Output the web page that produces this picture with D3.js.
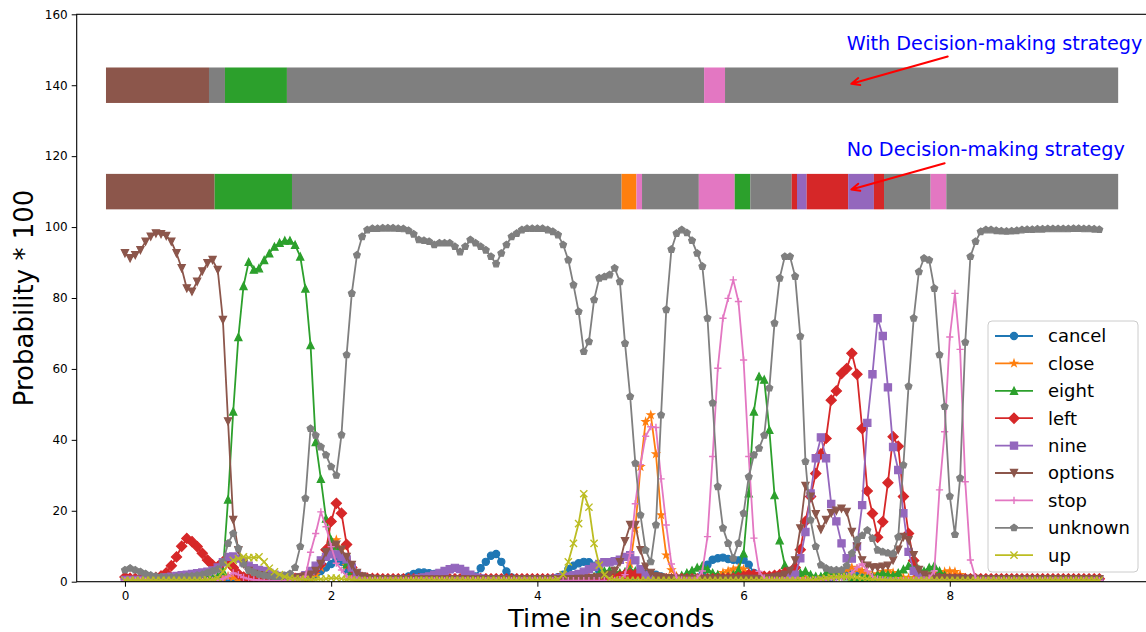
<!DOCTYPE html>
<html>
<head>
<meta charset="utf-8">
<script src="https://cdn.jsdelivr.net/npm/d3@7"></script>
<style>
  body { margin: 0; background: #fff; }
  svg { display: block; }
  text { font-family: "DejaVu Sans", sans-serif; }
</style>
</head>
<body>
<svg id="chart" width="1146" height="632"></svg>
<script>
// sample spacing of the probability frames (seconds)
const frameStep = 0.05;

const labels = ["cancel", "close", "eight", "left", "nine", "options", "stop", "unknown", "up"];
const xTicks = [0, 2, 4, 6, 8];
const yTicks = [0, 20, 40, 60, 80, 100, 120, 140, 160];

const cancel = [
  0.5,0.4,0.4,0.4,0.4,0.4,0.4,0.4,0.4,0.4,
  0.4,0.4,0.4,0.4,0.4,0.5,0.5,0.6,0.7,0.9,
  1.0,1.0,0.9,0.8,0.7,0.6,0.6,0.5,0.5,0.5,
  0.5,0.5,0.5,0.6,0.7,0.9,1.2,2.0,3.0,4.0,
  5.0,6.2,5.6,3.0,1.5,0.9,0.7,0.6,0.6,0.6,
  0.6,0.6,0.7,0.8,1.0,1.5,2.2,2.6,2.6,2.4,
  2.2,1.5,1.0,0.8,0.8,0.8,0.9,1.0,1.5,3.8,
  5.6,7.3,7.8,5.6,2.9,1.2,0.8,0.6,0.6,0.6,
  0.6,0.6,0.7,0.9,1.3,2.0,3.5,4.5,5.2,5.6,
  5.5,4.5,3.0,2.0,1.5,1.2,1.0,1.0,1.2,1.5,
  2.0,2.2,2.2,2.0,1.5,1.0,0.8,0.7,0.7,0.7,
  0.8,1.0,2.0,4.8,6.2,6.6,6.8,6.4,6.2,6.0,
  6.2,4.8,2.5,1.2,0.8,0.7,0.6,0.6,0.6,0.6,
  0.6,0.6,0.6,0.6,0.7,0.8,1.0,1.2,1.5,1.8,
  2.2,2.8,3.0,2.5,1.5,1.0,0.8,0.7,0.6,0.6,
  0.5,0.5,0.5,0.5,0.5,0.5,0.5,0.5,0.5,0.5,
  0.5,0.5,0.5,0.5,0.5,0.5,0.5,0.5,0.5,0.5,
  0.5,0.5,0.5,0.5,0.5,0.5,0.5,0.5,0.5,0.5,
  0.5,0.5,0.5,0.5,0.5,0.5,0.5,0.5,0.5,0.5
];

const close = [
  0.3,0.3,0.3,0.3,0.3,0.3,0.3,0.3,0.3,0.3,
  0.3,0.3,0.3,0.3,0.3,0.3,0.4,0.5,0.7,1.0,
  1.5,1.2,0.8,0.5,0.4,0.3,0.3,0.3,0.3,0.3,
  0.3,0.3,0.3,0.3,0.4,0.5,1.0,2.0,4.0,7.0,
  10.0,11.8,9.0,4.5,1.8,0.8,0.5,0.4,0.3,0.3,
  0.3,0.3,0.3,0.3,0.3,0.3,0.3,0.3,0.3,0.3,
  0.3,0.3,0.3,0.3,0.3,0.3,0.3,0.3,0.3,0.3,
  0.3,0.3,0.3,0.3,0.3,0.3,0.3,0.3,0.3,0.3,
  0.3,0.3,0.3,0.3,0.3,0.3,0.3,0.3,0.3,0.3,
  0.3,0.3,0.4,0.5,0.6,0.8,1.0,1.5,5.0,15.0,
  32.4,45.1,47.0,36.0,18.8,7.5,3.3,1.5,0.8,0.5,
  0.4,0.4,0.5,0.8,1.2,1.8,2.5,3.0,3.5,3.8,
  3.5,2.5,1.5,1.0,0.8,0.6,0.5,0.5,0.6,0.8,
  1.0,1.2,1.0,0.8,0.8,1.0,1.5,2.0,2.5,3.0,
  3.5,4.0,3.5,3.0,2.5,2.0,2.2,2.8,3.0,2.5,
  1.8,1.2,1.0,1.0,1.2,1.5,1.8,2.2,2.5,2.8,
  3.0,2.8,2.0,1.0,0.6,0.4,0.3,0.3,0.3,0.3,
  0.3,0.3,0.3,0.3,0.3,0.3,0.3,0.3,0.3,0.3,
  0.3,0.3,0.3,0.3,0.3,0.3,0.3,0.3,0.3,0.3
];

const eight = [
  0.6,0.5,0.5,0.5,0.4,0.4,0.4,0.4,0.4,0.5,
  0.5,0.5,0.5,0.6,0.6,0.7,0.8,1.0,1.5,3.0,
  23.2,48.0,69.0,83.4,90.2,88.0,88.4,90.7,92.6,94.5,
  95.6,96.2,96.2,95.0,91.7,82.7,66.7,39.4,29.0,17.8,
  11.8,10.0,7.0,5.0,3.0,1.5,1.0,0.8,0.7,0.6,
  0.6,0.5,0.5,0.5,0.5,0.5,0.5,0.5,0.5,0.5,
  0.5,0.5,0.5,0.6,0.6,0.6,0.5,0.5,0.5,0.5,
  0.5,0.5,0.5,0.5,0.5,0.4,0.4,0.4,0.4,0.4,
  0.4,0.4,0.4,0.4,0.5,0.5,0.6,0.7,0.8,0.8,
  1.0,1.5,2.2,3.0,3.2,3.0,2.5,2.8,3.5,3.0,
  2.0,1.2,0.8,0.6,0.6,0.7,0.9,1.2,1.8,2.5,
  3.2,4.0,4.5,3.5,2.5,2.0,1.5,1.5,2.0,3.3,
  8.0,24.9,48.0,57.9,57.0,42.8,24.4,11.7,4.7,2.0,
  1.5,2.5,3.0,2.0,1.5,1.5,2.5,3.0,2.5,2.0,
  1.5,1.2,1.0,1.0,1.2,1.5,2.0,2.5,2.0,1.8,
  2.5,3.5,4.5,5.0,3.5,3.0,4.0,4.5,3.0,1.8,
  1.2,0.9,0.7,0.6,0.5,0.5,0.5,0.5,0.5,0.5,
  0.5,0.5,0.5,0.5,0.5,0.5,0.5,0.5,0.5,0.5,
  0.5,0.5,0.5,0.5,0.5,0.5,0.5,0.5,0.5,0.5
];

const left = [
  1.3,1.0,0.9,0.9,0.9,1.0,1.2,1.6,2.5,4.5,
  7.0,10.0,12.2,11.3,9.9,8.0,6.1,4.7,4.2,5.6,
  6.2,4.0,2.2,1.3,1.0,0.9,0.8,0.8,0.8,0.8,
  0.8,0.8,0.8,0.9,1.0,1.5,2.5,3.5,5.0,9.0,
  17.0,22.1,19.3,10.5,4.0,1.8,1.2,1.0,0.9,0.9,
  0.8,0.8,0.8,0.8,0.8,0.8,0.8,0.8,0.8,0.8,
  0.8,0.8,0.8,0.8,0.8,0.8,0.8,0.8,0.8,0.8,
  0.8,0.8,0.8,0.8,0.8,0.8,0.8,0.8,0.8,0.8,
  0.8,0.8,0.8,0.8,0.8,0.8,0.8,0.8,0.8,0.8,
  0.8,0.8,0.8,0.9,1.0,1.2,1.5,2.0,2.2,2.0,
  1.8,1.5,1.2,1.0,0.9,0.8,0.8,0.8,0.8,0.8,
  0.8,0.8,0.8,0.8,0.8,0.8,0.9,1.0,1.0,1.2,
  1.5,2.0,2.0,1.8,1.5,1.5,1.8,2.0,2.5,2.0,
  4.0,9.0,17.0,24.0,30.5,36.0,40.4,51.2,53.8,58.7,
  60.1,64.4,58.5,43.2,25.6,19.2,12.5,16.9,27.9,40.9,
  38.2,24.0,13.6,6.0,2.0,1.2,1.0,0.9,0.9,0.8,
  0.8,0.8,0.8,0.8,0.8,0.8,0.8,0.8,0.8,0.8,
  0.8,0.8,0.8,0.8,0.8,0.8,0.8,0.8,0.8,0.8,
  0.8,0.8,0.8,0.8,0.8,0.8,0.8,0.8,0.8,0.8
];

const nine = [
  0.5,0.5,0.5,0.5,0.6,0.7,0.8,1.0,1.2,1.4,
  1.6,1.8,2.0,2.2,2.4,2.6,2.8,3.2,4.0,5.5,
  7.0,7.1,6.5,5.5,4.5,3.8,3.3,3.0,2.5,2.0,
  1.6,1.3,1.1,1.0,1.2,1.8,3.0,4.5,6.0,7.0,
  7.7,7.7,7.0,6.3,4.0,2.0,1.2,0.9,0.7,0.6,
  0.6,0.6,0.6,0.6,0.6,0.7,0.8,1.0,1.2,1.5,
  2.0,2.5,3.0,3.5,3.9,3.6,3.0,2.0,1.2,0.9,
  0.7,0.6,0.6,0.6,0.6,0.6,0.6,0.6,0.6,0.6,
  0.6,0.6,0.7,0.8,1.0,1.2,1.5,1.8,2.2,2.8,
  3.5,4.2,5.0,5.5,5.5,5.8,6.2,7.0,7.5,6.0,
  3.5,1.8,1.0,0.8,0.7,0.6,0.6,0.6,0.6,0.6,
  0.6,0.6,0.6,0.6,0.6,0.6,0.6,0.6,0.6,0.6,
  0.6,0.6,0.6,0.6,0.6,0.7,0.8,1.0,1.2,1.5,
  2.0,6.6,14.0,24.9,34.8,40.7,34.8,21.9,17.0,10.8,
  6.6,6.5,10.0,21.6,44.8,58.5,74.3,69.3,54.8,38.0,
  31.5,19.3,8.4,3.0,1.5,1.0,0.8,0.7,0.6,0.6,
  0.6,0.6,0.6,0.6,0.6,0.6,0.6,0.6,0.6,0.6,
  0.6,0.6,0.6,0.6,0.6,0.6,0.6,0.6,0.6,0.6,
  0.6,0.6,0.6,0.6,0.6,0.6,0.6,0.6,0.6,0.6
];

const options = [
  92.6,91.2,92.1,93.5,95.9,97.3,98.2,98.0,97.5,95.9,
  92.6,88.4,82.7,81.8,84.6,87.5,89.8,90.7,87.9,73.8,
  45.2,17.4,8.9,5.0,3.0,2.2,1.8,1.5,1.3,1.2,
  1.1,1.0,1.0,1.0,1.2,1.5,2.0,3.0,5.0,8.3,
  9.9,10.4,9.0,7.0,4.7,2.5,1.5,1.0,0.8,0.7,
  0.7,0.6,0.6,0.6,0.6,0.6,0.6,0.6,0.6,0.6,
  0.6,0.6,0.6,0.6,0.6,0.6,0.6,0.6,0.6,0.6,
  0.6,0.6,0.6,0.6,0.6,0.6,0.6,0.6,0.6,0.6,
  0.6,0.6,0.6,0.6,0.6,0.6,0.7,0.7,0.8,0.8,
  0.9,1.0,1.2,1.5,2.0,3.0,5.5,11.4,16.0,16.0,
  8.9,4.2,2.5,1.5,1.2,1.0,0.9,0.8,0.8,0.8,
  0.8,0.8,0.8,0.8,0.8,0.8,0.8,0.8,0.8,0.8,
  0.8,0.8,0.8,0.8,0.9,1.0,1.2,1.5,2.0,3.0,
  6.0,15.0,27.0,24.0,19.0,14.7,17.4,19.3,20.0,20.6,
  19.7,14.0,9.9,6.0,4.5,4.0,4.0,4.2,4.5,6.0,
  9.0,12.6,11.7,7.5,3.3,2.0,1.5,1.2,1.0,1.0,
  0.9,0.9,0.8,0.8,0.8,0.8,0.7,0.7,0.7,0.7,
  0.7,0.7,0.7,0.7,0.7,0.7,0.7,0.7,0.7,0.7,
  0.7,0.7,0.7,0.7,0.7,0.7,0.7,0.7,0.7,0.7
];

const stop = [
  0.3,0.3,0.3,0.3,0.3,0.3,0.3,0.3,0.3,0.3,
  0.3,0.3,0.3,0.3,0.3,0.3,0.3,0.4,0.5,0.8,
  1.5,2.5,2.0,1.2,0.8,0.5,0.4,0.3,0.3,0.3,
  0.3,0.3,0.3,0.4,0.6,1.5,8.3,13.6,19.7,15.5,
  9.9,5.2,3.3,1.5,0.8,0.5,0.4,0.3,0.3,0.3,
  0.3,0.3,0.3,0.3,0.3,0.3,0.3,0.3,0.3,0.3,
  0.3,0.3,0.3,0.3,0.3,0.3,0.3,0.3,0.3,0.3,
  0.3,0.3,0.3,0.3,0.3,0.3,0.3,0.3,0.3,0.3,
  0.3,0.3,0.3,0.3,0.3,0.3,0.3,0.3,0.3,0.3,
  0.3,0.3,0.3,0.3,0.3,0.4,0.6,2.0,8.0,22.0,
  33.0,41.0,43.7,43.5,29.0,16.0,5.0,1.2,0.5,0.4,
  0.4,1.0,3.0,12.7,35.3,60.2,74.3,79.9,85.1,79.0,
  62.5,35.3,12.3,2.9,1.0,0.5,0.4,0.3,0.3,0.3,
  0.3,0.3,0.3,0.4,0.5,0.5,0.6,0.8,1.0,1.2,
  1.5,2.5,4.0,5.0,3.0,1.5,0.8,0.5,0.4,0.3,
  0.3,0.3,0.3,0.3,0.3,0.5,1.0,3.0,25.9,42.3,
  69.0,81.3,65.5,28.2,6.1,1.0,0.4,0.3,0.3,0.3,
  0.3,0.3,0.3,0.3,0.3,0.3,0.3,0.3,0.3,0.3,
  0.3,0.3,0.3,0.3,0.3,0.3,0.3,0.3,0.3,0.3
];

const unknown = [
  3.3,3.8,3.3,2.8,2.2,1.8,1.5,1.3,1.2,1.2,
  1.3,1.4,1.5,1.6,1.8,2.0,2.5,3.0,3.5,5.5,
  10.8,13.6,9.4,5.0,3.2,2.6,2.1,1.8,1.6,1.5,
  1.5,1.7,2.2,4.0,9.9,23.5,43.2,41.3,38.0,35.7,
  32.4,30.0,41.4,64.0,81.3,92.1,97.3,99.2,99.6,99.6,
  99.7,99.7,99.7,99.6,99.5,99.0,98.0,96.4,96.2,95.9,
  95.0,95.5,95.5,95.5,94.5,93.0,94.5,96.4,95.5,94.5,
  93.5,91.7,89.6,92.6,95.0,97.3,98.2,99.2,99.6,99.6,
  99.6,99.6,99.2,98.7,97.8,95.0,90.7,83.7,76.2,64.9,
  67.7,79.5,85.6,86.0,86.5,88.4,84.6,67.2,52.2,33.4,
  18.8,8.9,5.6,16.0,47.0,76.7,93.7,98.2,99.2,98.4,
  96.2,92.6,88.9,74.3,50.4,26.8,15.1,10.8,6.6,10.8,
  19.3,29.6,35.7,37.6,41.3,54.6,72.9,85.6,91.7,91.7,
  86.1,69.2,33.9,17.4,9.9,4.7,3.8,3.3,3.3,3.3,
  4.5,8.0,11.8,13.0,14.5,12.2,8.9,8.4,8.1,7.9,
  12.6,32.9,55.1,74.3,87.4,91.2,90.7,82.7,64.0,49.4,
  24.1,13.3,29.2,67.5,91.7,95.9,98.7,99.2,99.2,99.0,
  98.9,98.8,98.9,99.0,99.2,99.3,99.3,99.4,99.4,99.5,
  99.5,99.5,99.5,99.5,99.6,99.6,99.5,99.5,99.4,99.3
];

const up = [
  0.4,0.4,0.4,0.4,0.4,0.4,0.4,0.4,0.4,0.4,
  0.4,0.4,0.4,0.4,0.4,0.4,0.5,0.6,1.0,2.8,
  4.7,6.0,6.5,7.0,6.8,6.8,7.0,5.6,3.8,2.8,
  2.0,1.4,1.0,0.8,0.7,0.6,0.6,0.6,0.7,0.8,
  1.0,1.0,0.8,0.6,0.5,0.4,0.4,0.4,0.4,0.4,
  0.4,0.4,0.4,0.4,0.4,0.4,0.4,0.4,0.4,0.4,
  0.4,0.4,0.4,0.4,0.4,0.4,0.4,0.4,0.4,0.4,
  0.4,0.4,0.4,0.4,0.4,0.4,0.4,0.4,0.4,0.4,
  0.4,0.4,0.4,0.4,0.6,2.0,5.6,10.8,16.4,24.8,
  21.0,10.8,4.7,1.9,0.8,0.5,0.4,0.4,0.4,0.4,
  0.4,0.4,0.4,0.4,0.4,0.4,0.4,0.4,0.4,0.4,
  0.4,0.4,0.4,0.4,0.4,0.4,0.4,0.4,0.4,0.4,
  0.4,0.4,0.4,0.4,0.4,0.4,0.4,0.4,0.4,0.4,
  0.4,0.4,0.4,0.5,0.6,0.8,1.0,1.2,1.3,1.4,
  1.4,1.3,1.2,1.0,0.8,0.6,0.5,0.5,0.4,0.4,
  0.4,0.4,0.4,0.4,0.4,0.4,0.4,0.4,0.4,0.4,
  0.4,0.4,0.4,0.4,0.4,0.4,0.4,0.4,0.4,0.4,
  0.4,0.4,0.4,0.4,0.4,0.4,0.4,0.4,0.4,0.4,
  0.4,0.4,0.4,0.4,0.4,0.4,0.4,0.4,0.4,0.4
];

// decided label per time segment: [label, start (s), end (s)]
const withStrategy = [
  ["options", -0.184, 0.815], ["unknown", 0.815, 0.97], ["eight", 0.97, 1.571],
  ["unknown", 1.571, 5.617], ["stop", 5.617, 5.82], ["unknown", 5.82, 9.633]
];
const noStrategy = [
  ["options", -0.184, 0.87], ["eight", 0.87, 1.62], ["unknown", 1.62, 4.817],
  ["close", 4.817, 4.961], ["stop", 4.961, 5.015], ["unknown", 5.015, 5.566],
  ["stop", 5.566, 5.914], ["eight", 5.914, 6.065], ["unknown", 6.065, 6.467],
  ["left", 6.467, 6.518], ["nine", 6.518, 6.612], ["left", 6.612, 7.014],
  ["nine", 7.014, 7.264], ["left", 7.264, 7.362], ["unknown", 7.362, 7.814],
  ["stop", 7.814, 7.966], ["unknown", 7.966, 9.633]
];
const barRows = [
  {segs: withStrategy, y0: 135, y1: 145},
  {segs: noStrategy, y0: 105, y1: 115}
];

// annotations: text at (tx, ty), arrow from (ax, ay) to (px, py), all in data units
const notes = [
  {text: "With Decision-making strategy", tx: 7.0, ty: 150, ax: 7.98, ay: 148.1, px: 7.045, py: 140.4},
  {text: "No Decision-making strategy", tx: 7.0, ty: 120, ax: 7.95, ay: 118, px: 7.045, py: 110.6}
];

const seriesValues = {cancel, close, eight, left, nine, options, stop, unknown, up};
const colors = {
  cancel: "#1f77b4", close: "#ff7f0e", eight: "#2ca02c", left: "#d62728", nine: "#9467bd",
  options: "#8c564b", stop: "#e377c2", unknown: "#7f7f7f", up: "#bcbd22"
};
const markers = {
  cancel: "o", close: "*", eight: "^", left: "D", nine: "s",
  options: "v", stop: "+", unknown: "p", up: "x"
};

const plot = {left: 76.7, right: 1146, top: 14.3, bottom: 581.7};

const x = d3.scaleLinear().domain([-0.468, 9.903]).range([plot.left, plot.right]);
const y = d3.scaleLinear().domain([0, 160]).range([plot.bottom, plot.top]);

const svg = d3.select("#chart");

const ms = 7.2; // marker size in px

function poly(pts) {
  return "M" + pts.map(p => p[0].toFixed(2) + "," + p[1].toFixed(2)).join("L") + "Z";
}
function regular(n, r, rot) {
  const pts = [];
  for (let k = 0; k < n; k++) {
    const a = rot + k * 2 * Math.PI / n;
    pts.push([r * Math.cos(a), r * Math.sin(a)]);
  }
  return pts;
}
function markerPath(type, s) {
  const h = s / 2;
  switch (type) {
    case "o":
      return `M${h},0A${h},${h} 0 1,1 ${-h},0A${h},${h} 0 1,1 ${h},0Z`;
    case "*": {
      const pts = [];
      for (let k = 0; k < 10; k++) {
        const r = k % 2 === 0 ? h : h * 0.381966;
        const a = -Math.PI / 2 + k * Math.PI / 5;
        pts.push([r * Math.cos(a), r * Math.sin(a)]);
      }
      return poly(pts);
    }
    case "^": return poly([[0, -h], [-h, h], [h, h]]);
    case "v": return poly([[0, h], [-h, -h], [h, -h]]);
    case "D": {
      const d = s * Math.SQRT1_2;
      return poly([[0, -d], [d, 0], [0, d], [-d, 0]]);
    }
    case "s": return poly([[-h, -h], [h, -h], [h, h], [-h, h]]);
    case "p": return poly(regular(5, h, -Math.PI / 2));
    case "+": return `M${-h},0L${h},0M0,${-h}L0,${h}`;
    case "x": return `M${-h},${-h}L${h},${h}M${-h},${h}L${h},${-h}`;
  }
}
function styleMarker(sel, name) {
  const open = markers[name] === "+" || markers[name] === "x";
  sel.attr("d", markerPath(markers[name], ms))
    .attr("fill", open ? "none" : colors[name])
    .attr("stroke", colors[name])
    .attr("stroke-width", open ? 1.4 : 1.2)
    .attr("stroke-linejoin", "miter");
}

svg.append("defs").append("clipPath").attr("id", "clip")
  .append("rect")
  .attr("x", plot.left).attr("y", plot.top)
  .attr("width", plot.right - plot.left).attr("height", plot.bottom - plot.top);

// decision bars
barRows.forEach(row => {
  svg.append("g").selectAll("rect")
    .data(row.segs)
    .join("rect")
    .attr("x", d => x(d[1]))
    .attr("width", d => x(d[2]) - x(d[1]))
    .attr("y", y(row.y1))
    .attr("height", y(row.y0) - y(row.y1))
    .attr("fill", d => colors[d[0]]);
});

// probability curves
const plotG = svg.append("g").attr("clip-path", "url(#clip)");
const line = d3.line()
  .x((d, i) => x(i * frameStep))
  .y(d => y(d));

labels.forEach(name => {
  const vals = seriesValues[name];
  const g = plotG.append("g");
  g.append("path")
    .datum(vals)
    .attr("fill", "none")
    .attr("stroke", colors[name])
    .attr("stroke-width", 1.8)
    .attr("stroke-linejoin", "round")
    .attr("d", line);
  g.selectAll("path.m")
    .data(vals)
    .join("path")
    .attr("class", "m")
    .attr("transform", (d, i) => `translate(${x(i * frameStep)},${y(d)})`)
    .call(styleMarker, name);
});

// axes
const xAxis = svg.append("g")
  .attr("transform", `translate(0,${plot.bottom})`)
  .call(d3.axisBottom(x).tickValues(xTicks).tickSize(5).tickPadding(5).tickFormat(d3.format("d")));
const yAxis = svg.append("g")
  .attr("transform", `translate(${plot.left},0)`)
  .call(d3.axisLeft(y).tickValues(yTicks).tickSize(5).tickPadding(4).tickFormat(d3.format("d")));
[xAxis, yAxis].forEach(a => {
  a.select(".domain").remove();
  a.selectAll("line").attr("stroke", "#000").attr("stroke-width", 1);
  a.selectAll("text").attr("font-size", 12).attr("fill", "#000")
    .attr("font-family", "'DejaVu Sans', sans-serif");
});

svg.append("rect")
  .attr("x", plot.left).attr("y", plot.top)
  .attr("width", plot.right - plot.left + 2).attr("height", plot.bottom - plot.top)
  .attr("fill", "none").attr("stroke", "#000").attr("stroke-width", 1.1);

svg.append("text")
  .attr("x", (plot.left + plot.right) / 2)
  .attr("y", 627)
  .attr("text-anchor", "middle")
  .attr("font-size", 25.5)
  .text("Time in seconds");

svg.append("text")
  .attr("transform", `translate(33,${(plot.top + plot.bottom) / 2}) rotate(-90)`)
  .attr("text-anchor", "middle")
  .attr("font-size", 26)
  .text("Probability * 100");

// annotations
notes.forEach(n => {
  svg.append("text")
    .attr("x", x(n.tx)).attr("y", y(n.ty))
    .attr("font-size", 19.2)
    .attr("fill", "#0000ff")
    .text(n.text);
  const x1 = x(n.ax), y1 = y(n.ay), x2 = x(n.px), y2 = y(n.py);
  const ang = Math.atan2(y2 - y1, x2 - x1);
  const hl = 9, spread = 0.42;
  svg.append("path")
    .attr("d", `M${x1},${y1}L${x2},${y2}` +
      `M${x2 - hl * Math.cos(ang - spread)},${y2 - hl * Math.sin(ang - spread)}L${x2},${y2}` +
      `L${x2 - hl * Math.cos(ang + spread)},${y2 - hl * Math.sin(ang + spread)}`)
    .attr("fill", "none")
    .attr("stroke", "#ff0000")
    .attr("stroke-width", 2)
    .attr("stroke-linecap", "round")
    .attr("stroke-linejoin", "round");
});

// legend
const lg = svg.append("g").attr("transform", "translate(988,321)");
lg.append("rect")
  .attr("width", 150).attr("height", 251)
  .attr("rx", 4).attr("ry", 4)
  .attr("fill", "#fff").attr("fill-opacity", 0.8)
  .attr("stroke", "#cccccc").attr("stroke-width", 1);
labels.forEach((name, i) => {
  const row = lg.append("g").attr("transform", `translate(0,${15 + i * 27.4})`);
  row.append("line")
    .attr("x1", 7).attr("x2", 45)
    .attr("stroke", colors[name]).attr("stroke-width", 1.8);
  row.append("path")
    .attr("transform", "translate(26,0)")
    .call(styleMarker, name);
  row.append("text")
    .attr("x", 60).attr("dy", "0.35em")
    .attr("font-size", 18)
    .text(name);
});
</script>
</body>
</html>
